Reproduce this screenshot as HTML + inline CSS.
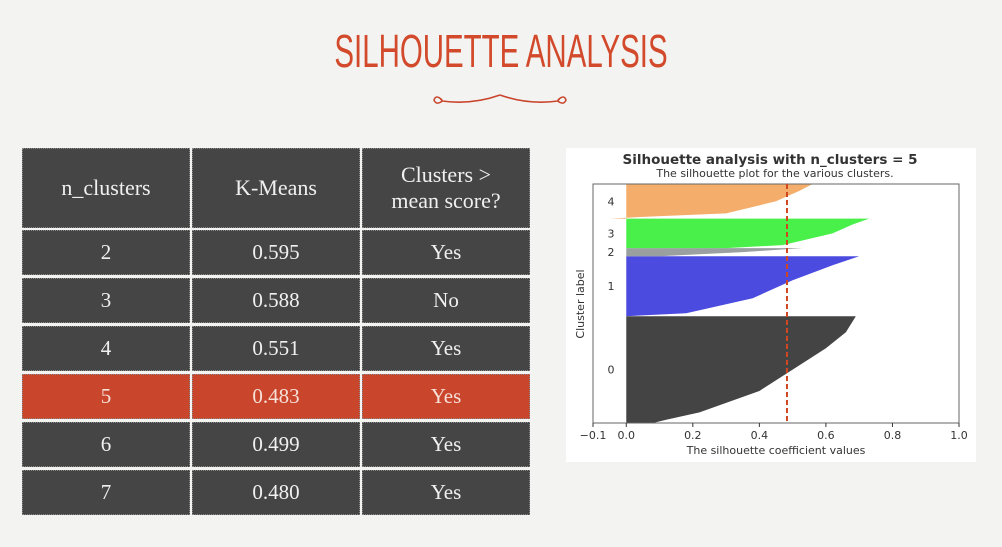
<!DOCTYPE html>
<html><head><meta charset="utf-8"><style>
body{margin:0;width:1002px;height:547px;background:#f3f3f1;position:relative;overflow:hidden;font-family:"Liberation Serif",serif}
.title{position:absolute;left:0;width:1002px;top:24px;text-align:center;color:#d24a2b;font-family:"Liberation Sans Narrow","Liberation Sans",sans-serif;font-size:46px;letter-spacing:0px;transform:scaleX(0.64)}
.cell{position:absolute;background:#454545;color:#f0f0f0;display:flex;align-items:center;justify-content:center;text-align:center;font-size:21px;box-sizing:border-box;border:1px dotted #888}
.hd{font-size:22px}
.red{background:#c9452c;color:#f6e0d8}
</style></head><body>
<div class="title">SILHOUETTE ANALYSIS</div>
<svg style="position:absolute;left:430px;top:90px" width="140" height="20">
<path d="M12 10 q-6 -6 -8 0 q2 5 7 2 q2 -3 -1 -3 M12 11 q30 4 58 -6 M128 10 q6 -6 8 0 q-2 5 -7 2 q-2 -3 1 -3 M128 11 q-30 4 -58 -6" fill="none" stroke="#c9452c" stroke-width="1.6"/>
</svg>
<div id="tbl"></div>
<svg id="chart" style="position:absolute;left:0;top:0" width="1002" height="547"></svg>
<script>
const headers=["n_clusters","K-Means","Clusters &gt;<br>mean score?"];
const nClusters=["2","3","4","5","6","7"];
const kmeans=["0.595","0.588","0.551","0.483","0.499","0.480"];
const aboveMean=["Yes","No","Yes","Yes","Yes","Yes"];
const colX=[22,192,362],colW=[168,168,168];
const tbl=document.getElementById('tbl');
function cell(x,y,w,h,html,cls,name){const d=document.createElement('div');d.className='cell '+cls;d.style.left=x+'px';d.style.top=y+'px';d.style.width=w+'px';d.style.height=h+'px';d.innerHTML=html;


tbl.appendChild(d);}
headers.forEach((h,i)=>cell(colX[i],148,colW[i],80,h,'hd','header-'+i));
nClusters.forEach((n,r)=>{const y=230+r*48;const c=r==3?'red':'';
[n,kmeans[r],aboveMean[r]].forEach((v,i)=>cell(colX[i],y,colW[i],45,v,c,'cell-r'+r+'-c'+i));});

// chart data
const clusterSizes=[105,59,8,29,34];
const profFrac=[[0,0.03,0.1,0.3,0.5,0.7,0.85,1],[0,0.05,0.3,0.6,0.85,1],[0,0.5,1],[0,0.1,0.5,0.8,1],[0,0.05,0.15,0.5,0.8,1]];
const profVal=[[0.08,0.12,0.22,0.4,0.5,0.6,0.66,0.69],[0.0,0.18,0.38,0.5,0.62,0.70],[0.1,0.35,0.53],[0.3,0.47,0.62,0.68,0.73],[-0.05,0.05,0.3,0.45,0.52,0.56]];
const clusterColors=["#444444","#4b4be0","#9aa0a0","#4af04a","#f4ad6a"];
const meanScore=0.483;
const xTicks=[-0.1,0,0.2,0.4,0.6,0.8,1.0];
const xTickLabels=["−0.1","0.0","0.2","0.4","0.6","0.8","1.0"];
const total=clusterSizes.reduce((a,b)=>a+b,0);
const L=593,R=959,T=184,B=423;
const xs=v=>L+(v+0.1)/1.1*(R-L);
const ys=u=>B-u/total*(B-T);
const svg=document.getElementById('chart');const NS='http://www.w3.org/2000/svg';
function el(t,a,name,txt){const e=document.createElementNS(NS,t);for(const k in a)e.setAttribute(k,a[k]);if(txt!=null)e.textContent=txt;


svg.appendChild(e);return e;}
el('rect',{x:566,y:148,width:410,height:314,fill:'#fff'},'chart-background');
el('text',{x:770,y:164,'text-anchor':'middle','font-family':'DejaVu Sans',"font-weight":'bold','font-size':13.5,fill:'#333'},'chart-title','Silhouette analysis with n_clusters = 5');
el('text',{x:775,y:177,'text-anchor':'middle','font-family':'DejaVu Sans','font-size':11,fill:'#333'},'chart-subtitle','The silhouette plot for the various clusters.');
let u=0;
clusterSizes.forEach((s,c)=>{
 let pts=[xs(0)+','+ys(u)];
 profFrac[c].forEach((f,i)=>pts.push(xs(profVal[c][i])+','+ys(u+f*s)));
 pts.push(xs(0)+','+ys(u+s));
 el('polygon',{points:pts.join(' '),fill:clusterColors[c]},'cluster-'+c+'-silhouette');
 el('text',{x:611,y:ys(u+s/2)+4,'text-anchor':'middle','font-family':'DejaVu Sans','font-size':11,fill:'#333'},'cluster-label-'+c,String(c));
 u+=s;});
el('rect',{x:L,y:T,width:R-L,height:B-T,fill:'none',stroke:'#666','stroke-width':1},'plot-frame');
el('line',{x1:xs(meanScore),x2:xs(meanScore),y1:T,y2:B,stroke:'#d2461e','stroke-width':2,'stroke-dasharray':'5,3'},'mean-score-line');
xTicks.forEach((t,i)=>{el('line',{x1:xs(t),x2:xs(t),y1:B,y2:B+4,stroke:'#333'},'x-tick');
 el('text',{x:xs(t),y:B+16,'text-anchor':'middle','font-family':'DejaVu Sans','font-size':11,fill:'#333'},'x-tick-label',xTickLabels[i]);});
el('text',{x:776,y:454,'text-anchor':'middle','font-family':'DejaVu Sans','font-size':11,fill:'#333'},'x-axis-title','The silhouette coefficient values');
el('text',{x:0,y:0,transform:'translate(584,304) rotate(-90)','text-anchor':'middle','font-family':'DejaVu Sans','font-size':11,fill:'#333'},'y-axis-title','Cluster label');
</script>
</body></html>
